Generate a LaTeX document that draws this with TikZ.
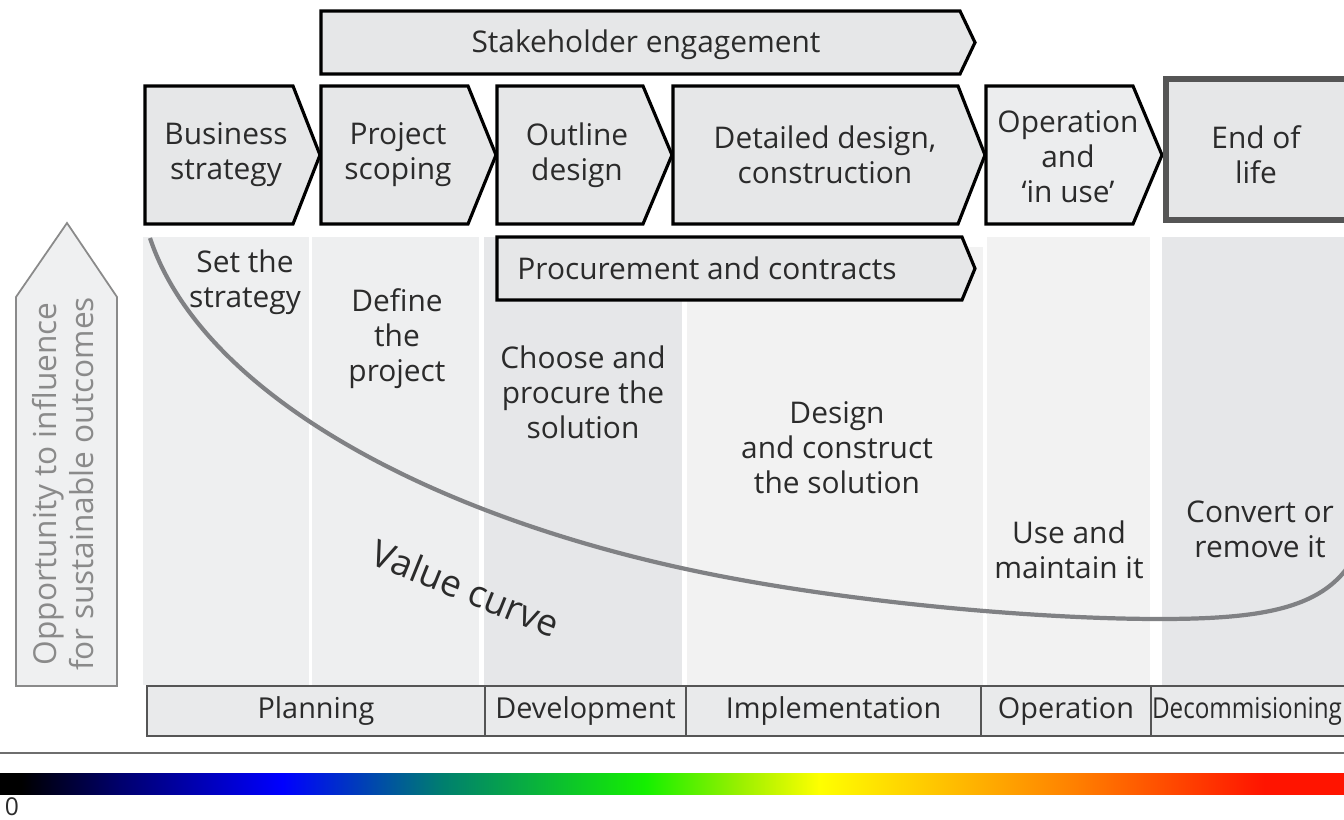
\documentclass[tikz,border=0pt]{standalone}
\usepackage{fontspec}
\setmainfont{Open Sans}
\usepackage{xcolor}

\definecolor{phasegray}{HTML}{E6E7E8}
\definecolor{opgray}{HTML}{ECEDEE}
\definecolor{stripeA}{HTML}{EEEFF0}
\definecolor{stripeB}{HTML}{E6E7E9}
\definecolor{stripeC}{HTML}{F2F2F2}
\definecolor{barfill}{HTML}{E9EAEB}
\definecolor{textdark}{HTML}{2B2B2B}
\definecolor{curvegray}{HTML}{808184}
\definecolor{arrowgray}{HTML}{8A8A8A}
\definecolor{endgray}{HTML}{555555}

\pgfdeclarehorizontalshading{spectrum}{100bp}{rgb(0bp)=(0,0,0); rgb(25bp)=(0,0,0); rgb(25.8bp)=(0,0,0);
  rgb(29.5bp)=(0,0,0.43); rgb(35.5bp)=(0,0,1); rgb(41.5bp)=(0,0.5,0.43); rgb(49bp)=(0.08,0.94,0);
  rgb(52.5bp)=(0.6,0.94,0); rgb(55.5bp)=(1,1,0); rgb(65bp)=(1,0.5,0); rgb(72bp)=(1,0.08,0);
  rgb(75bp)=(1,0.08,0); rgb(100bp)=(1,0.08,0)}

\tikzset{
    phase/.style={draw=black, line width=0.9pt, fill=phasegray, line join=miter},
    phasetext/.style={align=center, text=textdark, font=\fontsize{8.5}{10}\selectfont},
    stagetext/.style={align=center, text=textdark, font=\fontsize{8.2}{10}\selectfont},
    barcell/.style={draw=textdark!80, line width=0.4pt, fill=barfill}
}

\begin{document}
\begin{tikzpicture}
                    \clip (0,0) rectangle (13.44,8.19);
                    \fill[white] (0,0) rectangle (13.44,8.19);

                    % background stripes
                    \fill[stripeA] (1.43,1.34) rectangle (3.09,5.82);
                    \fill[stripeA] (3.12,1.34) rectangle (4.79,5.82);
                    \fill[stripeB] (4.84,1.34) rectangle (6.82,5.82);
                    \fill[stripeC] (6.87,1.34) rectangle (9.83,5.72);
                    \fill[stripeC] (9.87,1.34) rectangle (11.50,5.82);
                    \fill[stripeB] (11.62,1.34) rectangle (13.44,5.82);

                    % left arrow
                    \draw[arrowgray, fill=stripeA!95!white, line width=0.5pt] (0.16,1.33) -- (0.16,5.22) -- (0.67,5.96) -- (1.17,5.22) -- (1.17,1.33) -- cycle;
                    \node[rotate=90, align=center, text=arrowgray, font=\fontsize{9}{10.5}\selectfont] (influence) at (0.63,3.35) {Opportunity to influence\\for sustainable outcomes};

                    % stakeholder engagement
                    \draw[phase] (3.21,8.08) -- (9.60,8.08) -- (9.75,7.765) -- (9.60,7.45) -- (3.21,7.45) -- cycle;
                    \node[phasetext] (stake) at (6.46,7.74) {Stakeholder engagement};

                    % phases
                    \draw[phase] (1.45,7.33) -- (2.93,7.33) -- (3.20,6.64) -- (2.93,5.95) -- (1.45,5.95) -- cycle;
                    \draw[phase] (3.21,7.33) -- (4.68,7.33) -- (4.96,6.64) -- (4.68,5.95) -- (3.21,5.95) -- cycle;
                    \draw[phase] (4.97,7.33) -- (6.43,7.33) -- (6.72,6.64) -- (6.43,5.95) -- (4.97,5.95) -- cycle;
                    \draw[phase] (6.73,7.33) -- (9.58,7.33) -- (9.85,6.64) -- (9.58,5.95) -- (6.73,5.95) -- cycle;
                    \draw[phase, fill=opgray] (9.86,7.33) -- (11.33,7.33) -- (11.62,6.64) -- (11.33,5.95) -- (9.86,5.95) -- cycle;
                    \draw[endgray, line width=1.5pt, fill=phasegray] (11.66,5.99) rectangle (13.60,7.40);
                    \node[phasetext] (business) at (2.26,6.64) {Business\\strategy};
                    \node[phasetext] (scoping) at (3.98,6.64) {Project\\scoping};
                    \node[phasetext] (outline) at (5.77,6.64) {Outline\\design};
                    \node[phasetext] (detailed) at (8.25,6.64) {Detailed design,\\construction};
                    \node[phasetext] (operation) at (10.68,6.62) {Operation\\and\\‘in use’};
                    \node[phasetext] (endlife) at (12.56,6.64) {End of\\life};

                    % procurement
                    \draw[phase] (4.97,5.82) -- (9.62,5.82) -- (9.75,5.505) -- (9.62,5.19) -- (4.97,5.19) -- cycle;
                    \node[phasetext] (procure) at (7.07,5.51) {Procurement and contracts};

                    % value curve
                    \draw[curvegray, line width=1.2pt] (1.50,5.81) .. controls (2.0,4.3) and (4.2,3.05) .. (7.00,2.47)
                        .. controls (8.4,2.18) and (10.3,2.0) .. (11.60,2.00)
                        .. controls (12.6,2.0) and (13.2,2.1) .. (13.50,2.55);
                    \node[rotate=-22, text=textdark, font=\fontsize{10.5}{12}\selectfont] (valuecurve) at (4.66,2.31) {Value curve};

                    % stage texts
                    \node[phasetext] (setstrat) at (2.45,5.37) {Set the\\strategy};
                    \node[phasetext] (define) at (3.97,4.80) {Define\\the\\project};
                    \node[phasetext] (choose) at (5.83,4.27) {Choose and\\procure the\\solution};
                    \node[phasetext] (construct) at (8.37,3.71) {Design\\and construct\\the solution};
                    \node[phasetext] (maintain) at (10.69,2.69) {Use and\\maintain it};
                    \node[phasetext] (convert) at (12.60,2.90) {Convert or\\remove it};

                    % bottom bar
                    \draw[barcell] (1.47,0.83) rectangle (4.85,1.33);
                    \draw[barcell] (4.85,0.83) rectangle (6.86,1.33);
                    \draw[barcell] (6.86,0.83) rectangle (9.81,1.33);
                    \draw[barcell] (9.81,0.83) rectangle (11.51,1.33);
                    \draw[barcell] (11.51,0.83) rectangle (13.60,1.33);
                    \node[stagetext] (planning) at (3.16,1.08) {Planning};
                    \node[stagetext] (development) at (5.855,1.08) {Development};
                    \node[stagetext] (implementation) at (8.335,1.08) {Implementation};
                    \node[stagetext] (operationbar) at (10.66,1.08) {Operation};
                    \node[stagetext] (decom) at (12.47,1.08) {\scalebox{0.84}[1]{Decommisioning}};

                    % scale
                    \draw[arrowgray!80!black, line width=0.6pt] (0,0.66) -- (13.44,0.66);
                    \shade[shading=spectrum] (0,0.25) rectangle (13.44,0.46);
                    \node[text=textdark, font=\fontsize{7}{8}\selectfont, inner sep=0pt] (zero) at (0.12,0.12) {0};
                \end{tikzpicture}
\end{document}
